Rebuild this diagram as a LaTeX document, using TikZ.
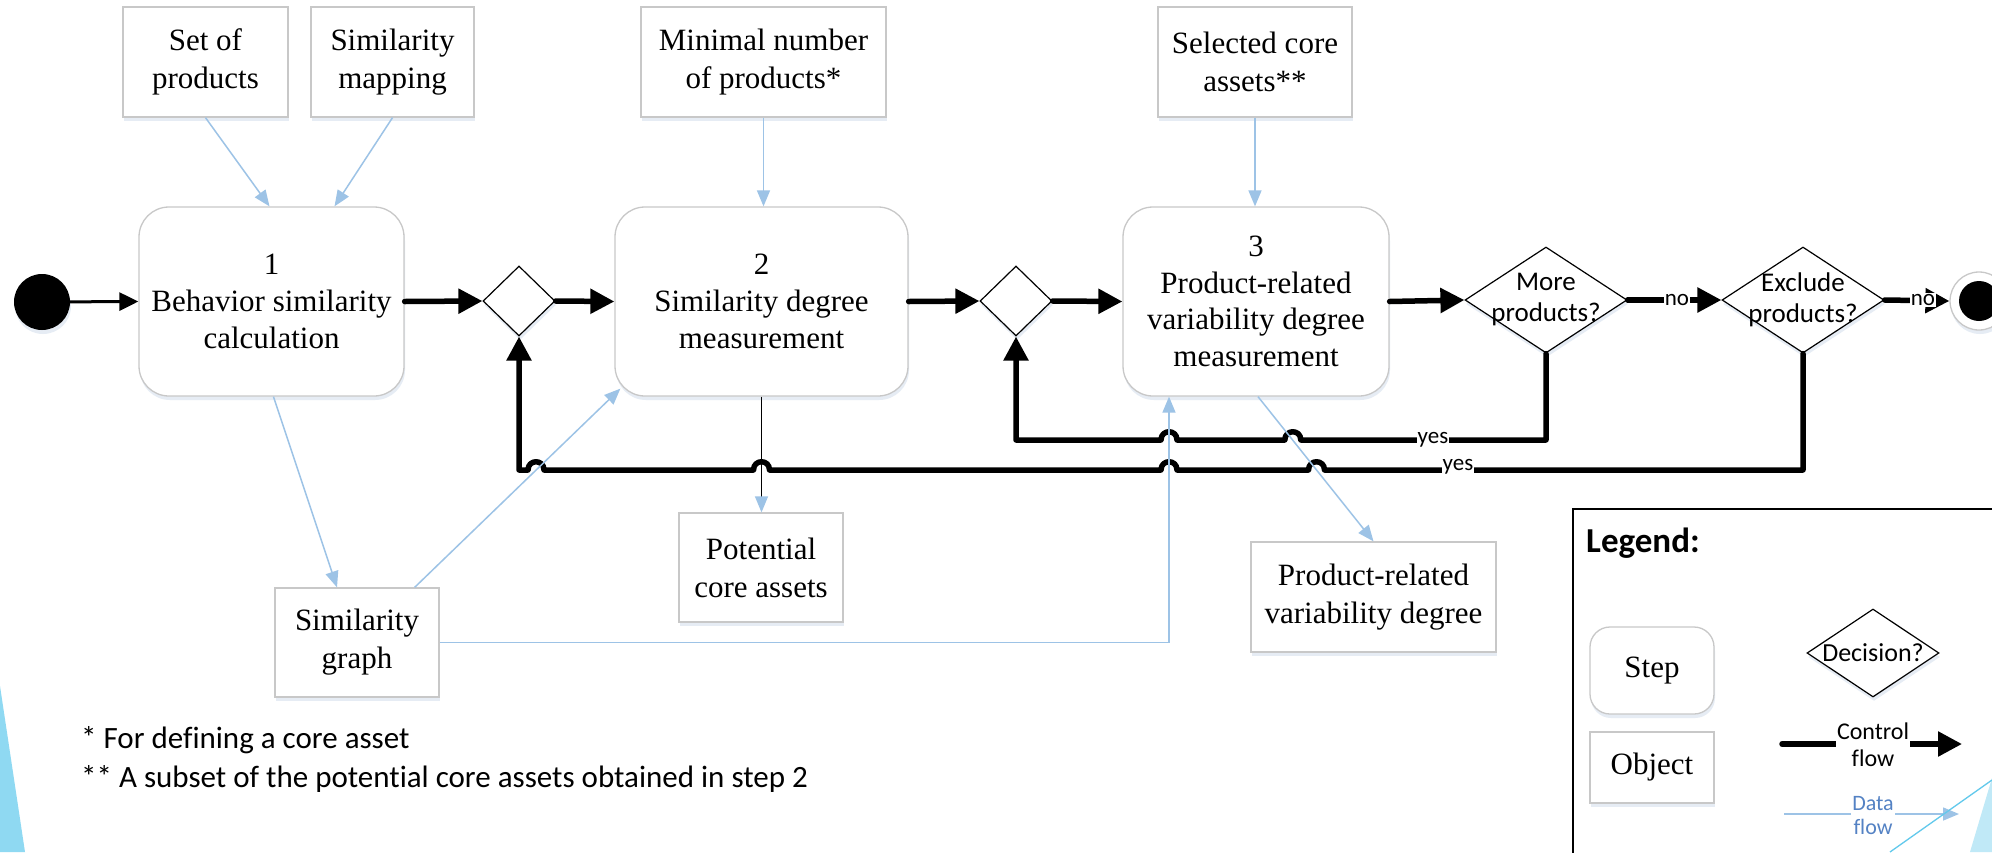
\documentclass[tikz,border=0pt]{standalone}
\usepackage{fontspec}
\setmainfont{Liberation Serif}
\newfontfamily\calibrifont[Ligatures={NoCommon}]{Carlito}
\usetikzlibrary{arrows.meta,shapes.geometric,shadows,calc}

\definecolor{dataC}{RGB}{157,195,230}
\definecolor{boxgray}{RGB}{200,200,200}
\definecolor{datalabel}{RGB}{84,130,196}
\definecolor{shade}{RGB}{224,232,242}
\definecolor{wedgeL}{RGB}{143,217,242}
\definecolor{wedgeR}{RGB}{192,233,247}
\definecolor{wedgeLine}{RGB}{98,201,236}

\begin{document}
\begin{tikzpicture}[x=1pt,y=-1pt,
  soft/.style={drop shadow={shadow xshift=1pt,shadow yshift=-4pt,fill=shade,opacity=0.8}},
  stepbox/.style={draw=boxgray,line width=1.3pt,fill=white,rounded corners=30pt,align=center,
    inner sep=0pt,font=\fontsize{31}{37}\selectfont,soft},
  objbox/.style={draw=boxgray,line width=1.3pt,fill=white,align=center,inner sep=0pt,
    font=\fontsize{31}{38}\selectfont,soft},
  gate/.style={diamond,draw=black,line width=1.2pt,fill=white,inner sep=0pt,soft},
  gatetext/.style={font=\calibrifont\fontsize{27}{31}\selectfont,align=center,inner sep=0pt},
  ctrl/.style={line width=5.5pt,line cap=round,line join=round,-{Triangle[length=24pt,width=24pt]}},
  ctrlthin/.style={line width=3pt,-{Triangle[length=19pt,width=18pt]}},
  data/.style={dataC,line width=1.5pt,-{Triangle[length=16pt,width=13pt]}},
  lbl/.style={font=\calibrifont\fontsize{23}{25}\selectfont,fill=white,inner sep=1pt},
  note/.style={anchor=west,inner sep=0pt,font=\calibrifont\fontsize{31}{36}\selectfont},
]
\fill[white] (0,0) rectangle (1992,852);
\useasboundingbox (0,0) rectangle (1992,852);

% ---------- input objects ----------
\node[objbox,minimum width=165pt,minimum height=110pt] (setp) at (205.5,62) {Set of\\products};
\node[objbox,minimum width=163pt,minimum height=110pt] (simm) at (392.5,62) {Similarity\\mapping};
\node[objbox,minimum width=245pt,minimum height=110pt] (minp) at (763.5,62) {Minimal number\\of products*};
\node[objbox,minimum width=194pt,minimum height=110pt] (selc) at (1255,62) {Selected core\\assets**};

% ---------- main flow ----------
\node[circle,fill=black,minimum size=56pt,inner sep=0pt,soft] (start) at (42,302) {};
\node[stepbox,minimum width=265pt,minimum height=189pt] (s1) at (271.5,301.5)
  {1\\Behavior similarity\\calculation};
\node[gate,minimum width=72pt,minimum height=70pt] (d1) at (519,301) {};
\node[stepbox,minimum width=293pt,minimum height=189pt] (s2) at (761.5,301.5)
  {2\\Similarity degree\\measurement};
\node[gate,minimum width=72pt,minimum height=70pt] (d2) at (1016,301) {};
\node[stepbox,minimum width=266pt,minimum height=189pt,font=\fontsize{31}{36.5}\selectfont] (s3) at (1256,301.5)
  {3\\Product-related\\variability degree\\measurement};
\node[gate,minimum width=162pt,minimum height=106pt] (more) at (1546,300) {};
\node[gatetext] (moret) at (more) {More\\products?};
\node[gate,minimum width=162pt,minimum height=106pt] (excl) at (1803,300) {};
\node[gatetext] (exclt) at (excl) {Exclude\\products?};
\node[circle,draw=boxgray,line width=1.3pt,fill=white,minimum size=58pt,inner sep=0pt,soft] (endo) at (1979,301) {};
\node[circle,fill=black,minimum size=40pt,inner sep=0pt] (endi) at (endo) {};

% ---------- output objects ----------
\node[objbox,minimum width=164pt,minimum height=109pt] (pca) at (761,567.5) {Potential\\core assets};
\node[objbox,minimum width=164pt,minimum height=109pt] (sg) at (357,642.5) {Similarity\\graph};
\node[objbox,minimum width=245pt,minimum height=110pt] (prvd) at (1373.5,597) {Product-related\\variability degree};

% ---------- control flow ----------
\draw[ctrlthin] (start) -- (s1.west);
\draw[ctrl] (s1.east) -- (d1.west);
\draw[ctrl] (d1.east) -- (s2.west);
\draw[ctrl] (s2.east) -- (d2.west);
\draw[ctrl] (d2.east) -- (s3.west);
\draw[ctrl] (s3.east) -- (more.west);
\draw[ctrl] (more.east) -- (excl.west);
\draw[ctrl] (excl.east) -- (endo.west);
\node[lbl] (no1) at (1677,300) {no};
\node[lbl] (no2) at (1923,300) {no};

\coordinate (ya) at (0,440);
\coordinate (yb) at (0,470);
% loop back from "More products?"
\draw[ctrl] (more.south) -- (more.south |- ya)
  -- (1300.8,440) .. controls (1300.8,429) and (1284.8,429) .. (1284.8,440)
  -- (1177,440) .. controls (1177,429) and (1161,429) .. (1161,440)
  -- (d2.south |- ya) -- (d2.south);
% loop back from "Exclude products?"
\draw[ctrl] (excl.south) -- (excl.south |- yb)
  -- (1324.5,470) .. controls (1324.5,459) and (1308.5,459) .. (1308.5,470)
  -- (1177,470) .. controls (1177,459) and (1161,459) .. (1161,470)
  -- (769.5,470) .. controls (769.5,459) and (753.5,459) .. (753.5,470)
  -- (544,470) .. controls (544,459) and (528,459) .. (528,470)
  -- (d1.south |- yb) -- (d1.south);
\node[lbl] (yes1) at (1433,440) {yes};
\node[lbl] (yes2) at (1458,467) {yes};

% ---------- data flow ----------
\draw[data] (setp.south) -- ([xshift=-2pt]s1.north);
\draw[data] (simm.south) -- ([xshift=63pt]s1.north);
\draw[data] (minp.south) -- (minp.south |- s2.north);
\draw[data] (selc.south) -- (selc.south |- s3.north);
\draw[data] ([xshift=2pt]s1.south) -- ([xshift=-20pt]sg.north);
\draw[data] ([xshift=-25pt]sg.north east) -- ([xshift=6pt,yshift=8pt]s2.south west);
\draw[data] (sg.east) -| ([xshift=-87pt]s3.south);
\draw[data] ([xshift=2pt]s3.south) -- (prvd.north);
\draw[line width=1.3pt,-{Triangle[length=16pt,width=13pt,color=dataC]}] (s2.south) -- (s2.south |- pca.north);

% ---------- footnotes ----------
\node[note] (fn1) at (81,740) {* For defining a core asset};
\node[note] (fn2) at (81,779) {** A subset of the potential core assets obtained in step 2};

% ---------- legend ----------
\draw[line width=1.3pt] (1573,860) -- (1573,509) -- (2000,509);
\node[anchor=west,inner sep=0pt,font=\calibrifont\bfseries\fontsize{35}{40}\selectfont] (leg) at (1586,543) {Legend:};
\node[stepbox,rounded corners=20pt,minimum width=124pt,minimum height=87pt] (lstep) at (1652,670.5) {Step};
\node[objbox,minimum width=124pt,minimum height=71pt] (lobj) at (1652,767.5) {Object};
\node[gate,minimum width=132pt,minimum height=88pt] (ldec) at (1873,653) {};
\node[gatetext,font=\calibrifont\fontsize{26}{30}\selectfont] (ldect) at (ldec) {Decision?};
\coordinate (cf1) at (1782,744);
\coordinate (cf2) at (1962,744);
\draw[ctrl] (cf1) -- (cf2);
\node[font=\calibrifont\fontsize{24}{27}\selectfont,fill=white,align=center,inner sep=1pt] (cfl) at (1873,744.5) {Control\\flow};
\coordinate (df1) at (1784,814);
\coordinate (df2) at (1959,814);
\draw[data] (df1) -- (df2);
\node[font=\calibrifont\fontsize{22}{24}\selectfont,text=datalabel,fill=white,align=center,inner sep=1pt] (dfl) at (1873,816) {Data\\flow};

% ---------- corner accents ----------
\fill[wedgeL] (0,686) -- (25,852) -- (0,852) -- cycle;
\fill[wedgeR] (1970,852) -- (1992,778) -- (1992,852) -- cycle;
\draw[wedgeLine,line width=1.3pt] (1890,852) -- (1992,780);
\end{tikzpicture}
\end{document}
